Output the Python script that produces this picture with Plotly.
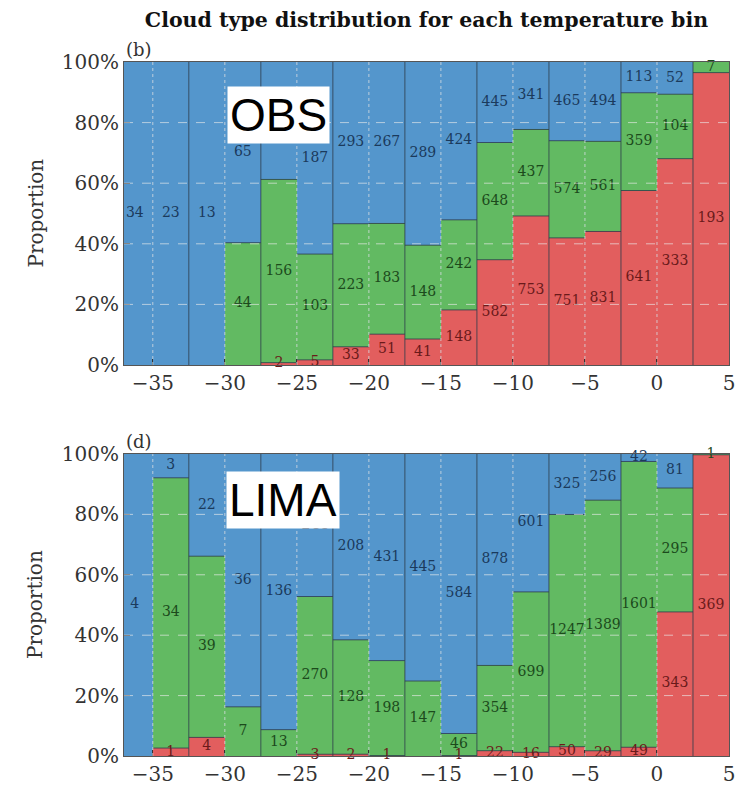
import numpy as np
import plotly.graph_objects as go
from plotly.subplots import make_subplots

# temperature bins (centres, degC), width 2.5
bin_centers = [-36.25, -33.75, -31.25, -28.75, -26.25, -23.75, -21.25, -18.75, -16.25,
               -13.75, -11.25, -8.75, -6.25, -3.75, -1.25, 1.25, 3.75]
bin_width = 2.5

# OBS counts per cloud type
obs_red = [0, 0, 0, 0, 2, 5, 33, 51, 41, 148, 582, 753, 751, 831, 641, 333, 193]
obs_green = [0, 0, 0, 44, 156, 103, 223, 183, 148, 242, 648, 437, 574, 561, 359, 104, 7]
obs_blue = [34, 23, 13, 65, 100, 187, 293, 267, 289, 424, 445, 341, 465, 494, 113, 52, 0]

# LIMA counts per cloud type
lima_red = [0, 1, 4, 0, 0, 3, 2, 1, 0, 1, 22, 16, 50, 29, 49, 343, 369]
lima_green = [0, 34, 39, 7, 13, 270, 128, 198, 147, 46, 354, 699, 1247, 1389, 1601, 295, 1]
lima_blue = [4, 3, 22, 36, 136, 244, 208, 431, 445, 584, 878, 601, 325, 256, 42, 81, 0]

x_ticks = [-35, -30, -25, -20, -15, -10, -5, 0, 5]
y_ticks = [0, 20, 40, 60, 80, 100]
y_ticktext = ["0%", "20%", "40%", "60%", "80%", "100%"]

COL = {"red": "rgb(226,94,94)", "green": "rgb(98,186,98)", "blue": "rgb(84,150,204)"}
TXT = {"red": "#6a1a1a", "green": "#1c4a1c", "blue": "#1b3a5c"}
EDGE = "rgba(45,60,75,0.8)"
SERIF = "DejaVu Serif"

fig = make_subplots(rows=2, cols=1, vertical_spacing=0.0)
centers = np.array(bin_centers)

def add_panel(row, red, green, blue):
    r = np.array(red, float); g = np.array(green, float); b = np.array(blue, float)
    tot = r + g + b
    pr, pg, pb = 100 * r / tot, 100 * g / tot, 100 * b / tot
    bases = [np.zeros_like(pr), pr, pr + pg]
    for name, vals, counts, base in [("red", pr, r, bases[0]), ("green", pg, g, bases[1]),
                                     ("blue", pb, b, bases[2])]:
        fig.add_trace(go.Bar(x=bin_centers, y=vals, base=base, width=bin_width,
                             marker=dict(color=COL[name], line=dict(width=0)),
                             showlegend=False, hoverinfo="skip"), row=row, col=1)
    # segment boundary edges (horizontal)
    ex, ey = [], []
    for bnd in (pr, pr + pg):
        for c, v in zip(centers, bnd):
            if 0.05 < v < 99.95:
                ex += [c - bin_width / 2, c + bin_width / 2, None]
                ey += [v, v, None]
    # vertical bin edges (those not on a grid line)
    for c in centers[1:]:
        e = c - bin_width / 2
        if abs(e / 5 - round(e / 5)) > 1e-6:
            ex += [e, e, None]
            ey += [0, 100, None]
    fig.add_trace(go.Scatter(x=ex, y=ey, mode="lines", line=dict(color=EDGE, width=1),
                             showlegend=False, hoverinfo="skip"), row=row, col=1)
    for name, vals, counts, base in [("red", pr, r, bases[0]), ("green", pg, g, bases[1]),
                                     ("blue", pb, b, bases[2])]:
        mask = counts > 0
        fig.add_trace(go.Scatter(x=centers[mask], y=(base + vals / 2)[mask],
                                 text=[str(int(c)) for c in counts[mask]], mode="text",
                                 textfont=dict(family=SERIF, size=14, color=TXT[name]),
                                 cliponaxis=False, showlegend=False, hoverinfo="skip"),
                      row=row, col=1)

add_panel(1, obs_red, obs_green, obs_blue)
add_panel(2, lima_red, lima_green, lima_blue)

fig.update_layout(barmode="overlay", bargap=0)

top_dom = [0.5634, 1.0]
bot_dom = [0.0, 0.4352]
for row, dom in [(1, top_dom), (2, bot_dom)]:
    fig.update_xaxes(row=row, col=1, range=[-37, 5], tickvals=x_ticks, ticks="inside", ticklen=6,
                     tickcolor="#333", showline=True, linecolor="#555", linewidth=1, mirror=True,
                     showgrid=False, zeroline=False, tickfont=dict(family=SERIF, size=20, color="#333"),
                     automargin=False)
    fig.update_yaxes(row=row, col=1, domain=dom, range=[0, 100], tickvals=y_ticks, ticktext=y_ticktext,
                     ticks="inside", ticklen=6, tickcolor="#333", showline=True, linecolor="#555",
                     linewidth=1, mirror=True, showgrid=False, zeroline=False,
                     tickfont=dict(family=SERIF, size=20, color="#333"), automargin=False)

# grid drawn above bars
for xr, yr in [("x", "y"), ("x2", "y2")]:
    for v in y_ticks[1:-1]:
        fig.add_shape(type="line", xref=f"{xr} domain", yref=yr, x0=0, x1=1, y0=v, y1=v,
                      line=dict(color="rgba(235,235,235,0.65)", width=1, dash="dash"), layer="above")
    for v in x_ticks[:-1]:
        fig.add_shape(type="line", xref=xr, yref=f"{yr} domain", x0=v, x1=v, y0=0, y1=1,
                      line=dict(color="rgba(215,220,225,0.8)", width=1, dash="dot"), layer="above")

ann = []
for ydom, lab in [(top_dom, "(b)"), (bot_dom, "(d)")]:
    ann.append(dict(text=lab, xref="paper", yref="paper", x=0, y=ydom[1], xanchor="left",
                    yanchor="bottom", yshift=0, showarrow=False,
                    font=dict(family=SERIF, size=18, color="#333")))
    ann.append(dict(text="Proportion", xref="paper", yref="paper", x=-0.147, y=(ydom[0] + ydom[1]) / 2,
                    textangle=-90, showarrow=False, xanchor="center", yanchor="middle",
                    font=dict(family=SERIF, size=20, color="#333")))
ann.append(dict(text="OBS", xref="paper", yref="paper", x=(278 - 124) / 605, y=(756 - 115) / 694,
                xanchor="center", yanchor="middle", showarrow=False, bgcolor="white", borderpad=2,
                font=dict(family="Liberation Sans", size=46, color="black")))
ann.append(dict(text="LIMA", xref="paper", yref="paper", x=(283 - 124) / 605, y=(756 - 500) / 694,
                xanchor="center", yanchor="middle", showarrow=False, bgcolor="white", borderpad=2,
                font=dict(family="Liberation Sans", size=46, color="black")))

# page body has an 8px margin, so the figure is 8px smaller than the window
fig.update_layout(
    width=742, height=777, margin=dict(l=116, r=21, t=54, b=29),
    paper_bgcolor="white", plot_bgcolor="white",
    title=dict(text="<b>Cloud type distribution for each temperature bin</b>", x=0.5, xref="paper",
               y=1 - 12 / 777, yanchor="middle", font=dict(family=SERIF, size=20.5, color="#111")),
    annotations=ann,
)

fig.write_html("out.html")
